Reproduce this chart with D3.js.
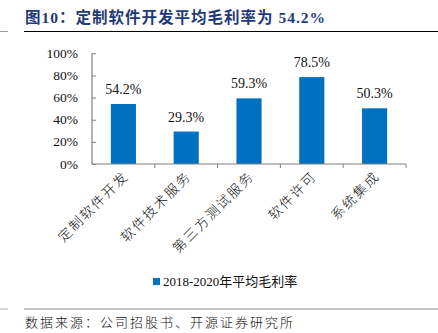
<!DOCTYPE html>
<html>
<head>
<meta charset="utf-8">
<script src="https://cdn.jsdelivr.net/npm/d3@7"></script>
<style>
  html, body { margin: 0; padding: 0; background: #fff; }
  svg { display: block; }
</style>
</head>
<body>
<svg id="chart" width="438" height="333"></svg>
<script>
const categories = ["定制软件开发", "软件技术服务", "第三方测试服务", "软件许可", "系统集成"];
const avgMargin = [54.2, 29.3, 59.3, 78.5, 50.3];
const yTicks = [0, 20, 40, 60, 80, 100];
const seriesName = "2018-2020年平均毛利率";

const svg = d3.select("#chart");
const blue = "#0070C0";
const font = "Liberation Serif, Noto Sans CJK SC, serif";
const numFont = "Liberation Serif, Times New Roman, serif";

// title + rules
svg.append("text")
    .attr("x", 25).attr("y", 23)
    .attr("fill", "#1F3A78")
    .attr("font-family", font)
    .attr("font-weight", "bold")
    .attr("font-size", 15.5)
    .attr("letter-spacing", 1)
    .text("图10：定制软件开发平均毛利率为 54.2%");

svg.append("line").attr("x1", 24).attr("x2", 438).attr("y1", 31.5).attr("y2", 31.5)
    .attr("stroke", "#000").attr("stroke-width", 1.2);
svg.append("line").attr("x1", 0).attr("x2", 8).attr("y1", 31.5).attr("y2", 31.5)
    .attr("stroke", "#999").attr("stroke-width", 1);

const x = d3.scaleBand().domain(categories).range([92, 406]).paddingInner(0.6).paddingOuter(0.3);
const y = d3.scaleLinear().domain([0, 100]).range([164, 53.3]);

// y axis, ticks pointing inward
const yAxis = svg.append("g").attr("transform", "translate(92,0)")
    .call(d3.axisRight(y).tickValues(yTicks).tickSize(4).tickFormat(""));
yAxis.select(".domain").attr("stroke", "#808080").attr("stroke-width", 1.2).attr("d", `M0,${y(100)}V${y(0)}`);
yAxis.selectAll(".tick line").attr("stroke", "#808080").attr("stroke-width", 1);

svg.append("g").selectAll("text").data(yTicks).join("text")
    .attr("x", 78).attr("y", d => y(d) + 4.5)
    .attr("text-anchor", "end")
    .attr("font-family", numFont).attr("font-size", 13.5).attr("fill", "#111")
    .text(d => d + "%");

// bars
svg.append("g").selectAll("rect").data(avgMargin).join("rect")
    .attr("x", (d, i) => x(categories[i]))
    .attr("width", x.bandwidth())
    .attr("y", d => y(d))
    .attr("height", d => y(0) - y(d))
    .attr("fill", blue);

svg.append("g").selectAll("text").data(avgMargin).join("text")
    .attr("x", (d, i) => x(categories[i]) + x.bandwidth() / 2)
    .attr("y", d => y(d) - 10)
    .attr("text-anchor", "middle")
    .attr("font-family", numFont).attr("font-size", 14).attr("fill", "#111")
    .text(d => d.toFixed(1) + "%");

// x axis with category boundary ticks below
const step = (406 - 92) / categories.length;
const xAxis = svg.append("g").attr("transform", `translate(0,${y(0)})`);
xAxis.append("line").attr("x1", 92).attr("x2", 406).attr("stroke", "#808080").attr("stroke-width", 1.2);
xAxis.selectAll("line.tk").data(d3.range(1, categories.length + 1)).join("line")
    .attr("class", "tk")
    .attr("x1", d => 92 + d * step).attr("x2", d => 92 + d * step)
    .attr("y1", 0).attr("y2", 4)
    .attr("stroke", "#808080");

xAxis.selectAll("text").data(categories).join("text")
    .attr("transform", d => `translate(${x(d) + x.bandwidth() / 2 + 6},${13}) rotate(-45)`)
    .attr("text-anchor", "end")
    .attr("font-family", font).attr("font-size", 13.5).attr("font-weight", 300)
    .attr("letter-spacing", 2).attr("fill", "#111")
    .text(d => d);

// legend
const legend = svg.append("g").attr("transform", "translate(153,278)");
legend.append("rect").attr("width", 7).attr("height", 7).attr("fill", blue);
legend.append("text").attr("x", 10).attr("y", 7.5)
    .attr("font-family", font).attr("font-size", 13).attr("fill", "#111")
    .text(seriesName);

// source line
svg.append("line").attr("x1", 24).attr("x2", 438).attr("y1", 309).attr("y2", 309)
    .attr("stroke", "#888").attr("stroke-width", 1.2);
svg.append("line").attr("x1", 0).attr("x2", 8).attr("y1", 309).attr("y2", 309)
    .attr("stroke", "#aaa").attr("stroke-width", 1);
svg.append("text")
    .attr("x", 25).attr("y", 327)
    .attr("font-family", font).attr("font-size", 13).attr("font-weight", 300)
    .attr("letter-spacing", 2).attr("fill", "#111")
    .text("数据来源：公司招股书、开源证券研究所");
</script>
</body>
</html>
